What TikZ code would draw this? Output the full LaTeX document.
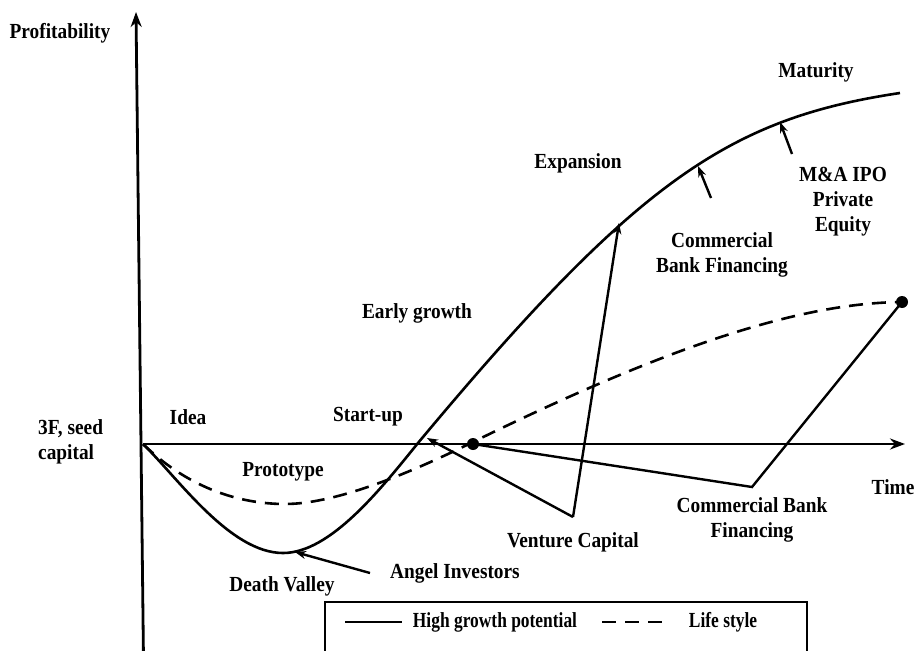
\documentclass[tikz,border=0pt]{standalone}
\usepackage{fontspec}
\setmainfont{Liberation Serif}
\newfontfamily\lblfont{Liberation Serif}[FakeStretch=0.9]
\newfontfamily\legfont{Liberation Serif}[FakeStretch=0.81]
\usetikzlibrary{arrows.meta}
\begin{document}
\begin{tikzpicture}[x=1pt,y=-1pt,
  lbl/.style={font=\lblfont\fontsize{21.5}{25}\selectfont\bfseries, align=center, inner sep=0pt},
  leglbl/.style={font=\legfont\fontsize{21.5}{25}\selectfont\bfseries, align=center, inner sep=0pt},
  axisline/.style={line width=2.8pt, -{Stealth[length=15pt,width=11pt]}},
  curveline/.style={line width=2.6pt},
  dashline/.style={line width=2.6pt, dash pattern=on 14pt off 9pt},
  connline/.style={line width=2.4pt},
  arrline/.style={line width=2.4pt, -{Stealth[length=11pt,width=8pt]}},
  dotnode/.style={circle, fill=black, inner sep=0pt, minimum size=12pt}
]
\path[use as bounding box] (0,0) rectangle (917,650);
\clip (0,0) rectangle (917,650);

% coordinates
\coordinate (O) at (143,444);
\coordinate (ytop) at (136,12);
\coordinate (ybot) at (143.5,660);
\coordinate (xend) at (905,444);
\coordinate (vc) at (573,517);
\coordinate (cb) at (752,487);
\coordinate (su) at (427,438);
\coordinate (exp) at (619,223);
\coordinate (dv) at (295,552);
\coordinate (ang) at (370,573);
\coordinate (a1) at (711,198);
\coordinate (a1h) at (698,166);
\coordinate (a2) at (792,154);
\coordinate (a2h) at (780,122);

% axes
\draw[axisline] (ybot) -- (ytop);
\draw[axisline] (O) -- (xend);

% curves
\draw[curveline] (O) .. controls (178,478) and (230,553) .. (283,553)
  .. controls (330,553) and (380,490) .. (418,443)
  .. controls (638,179) and (730,118.5) .. (900,93);
\draw[dashline] (O) .. controls (185,485) and (235,504) .. (285,504)
  .. controls (340,504) and (420,468) .. (473,442)
  .. controls (673,344) and (802,303) .. (902,302);

% dots
\node[dotnode] (d1) at (473,444) {};
\node[dotnode] (d2) at (902,302) {};

% connectors
\draw[connline, line join=miter] (d1.center) -- (cb) -- (d2.center);
\draw[arrline] (vc) -- (su);
\draw[arrline] (vc) -- (exp);
\draw[arrline] (ang) -- (dv);
\draw[arrline] (a1) -- (a1h);
\draw[arrline] (a2) -- (a2h);

% labels
\node[lbl] (lprof) at (60,33) {Profitability};
\node[lbl] (lmat) at (816,72) {Maturity};
\node[lbl] (lexp) at (578,163) {Expansion};
\node[lbl] (lmaa) at (843,202) {M\&A IPO\\Private\\Equity};
\node[lbl] (lcbf1) at (722,255) {Commercial\\Bank Financing};
\node[lbl] (learly) at (417,313) {Early growth};
\node[lbl] (lidea) at (188,417) {Idea};
\node[lbl] (lstart) at (368,417) {Start-up};
\node[lbl, anchor=west, align=left] (lseed) at (38,442) {3F, seed\\capital};
\node[lbl] (lproto) at (283,472) {Prototype};
\node[lbl] (ltime) at (893,487) {Time};
\node[lbl] (lvc) at (573,542) {Venture Capital};
\node[lbl] (lcbf2) at (752,520) {Commercial Bank\\Financing};
\node[lbl] (ldv) at (282,586) {Death Valley};
\node[lbl] (lang) at (455,573) {Angel Investors};

% legend
\draw[line width=2pt] (325,602) rectangle (807,680);
\coordinate (ls1) at (345,622);
\coordinate (ls2) at (402,622);
\coordinate (ld1) at (602,622);
\coordinate (ld2) at (667,622);
\draw[curveline] (ls1) -- (ls2);
\draw[dashline] (ld1) -- (ld2);
\node[leglbl] (lhigh) at (495,622) {High growth potential};
\node[leglbl] (llife) at (723,622) {Life style};
\end{tikzpicture}
\end{document}
